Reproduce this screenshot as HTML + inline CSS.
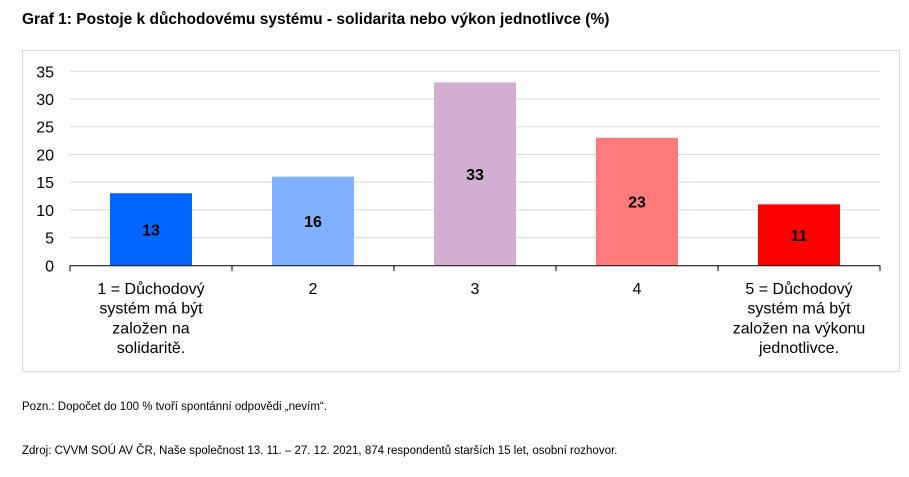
<!DOCTYPE html>
<html><head><meta charset="utf-8"><style>
body{margin:0;background:#fff;font-family:"Liberation Sans",Arial,sans-serif;}
</style></head><body>
<svg width="909" height="472" xmlns="http://www.w3.org/2000/svg" font-family="Liberation Sans, Arial, sans-serif">
<text x="22" y="24" font-size="15.5" font-weight="bold" fill="#000">Graf 1: Postoje k důchodovému systému - solidarita nebo výkon jednotlivce (%)</text>
<rect x="22.5" y="50.5" width="877" height="321" fill="none" stroke="#d9d9d9"/>
<g id="grid"></g><g id="bars"></g><g id="axis"></g>
<text x="22" y="410" font-size="11.5" fill="#000">Pozn.: Dopočet do 100 % tvoří spontánní odpovědi „nevím“.</text>
<text x="22" y="454" font-size="11.5" fill="#000">Zdroj: CVVM SOÚ AV ČR, Naše společnost 13. 11. – 27. 12. 2021,  874 respondentů starších 15 let, osobní rozhovor.</text>
</svg>
<script>
const categories=[["1 = Důchodový","systém má být","založen na","solidaritě."],["2"],["3"],["4"],["5 = Důchodový","systém má být","založen na výkonu","jednotlivce."]];
const values=[13,16,33,23,11];
const colors=["#0066ff","#80b0ff","#d2aed0","#ff7a7a","#ff0000"];
const ticks=[0,5,10,15,20,25,30,35];
const NS="http://www.w3.org/2000/svg";
const x0=70,x1=880,y0=265.3,yTop=71.3,maxV=35;
const band=(x1-x0)/categories.length;
const y=v=>y0-(v/maxV)*(y0-yTop);
const xc=i=>x0+band*(i+0.5);
function mk(t,a,p){const e=document.createElementNS(NS,t);for(const k in a)e.setAttribute(k,a[k]);p.appendChild(e);return e;}
const g=document.getElementById('grid'),b=document.getElementById('bars'),ax=document.getElementById('axis');
ticks.forEach(t=>{
 if(t>0){const l=mk('line',{x1:x0,x2:x1,y1:y(t),y2:y(t),stroke:'#d9d9d9','stroke-width':1},g);
 
 }
 const tx=mk('text',{x:54,y:y(t)+6,'font-size':16,'text-anchor':'end',fill:'#000'},g);
 tx.textContent=t;
 
 
});
values.forEach((v,i)=>{
 const r=mk('rect',{x:xc(i)-41,y:y(v),width:82,height:y0-y(v),fill:colors[i]},b);
 
 
 const t=mk('text',{x:xc(i),y:(y(v)+y0)/2+6,'font-size':16,'font-weight':'bold','text-anchor':'middle',fill:'#000'},b);
 t.textContent=v;
 
 
});
const al=mk('line',{x1:x0,x2:x1,y1:y0+0.5,y2:y0+0.5,stroke:'#000','stroke-width':1},ax);


for(let i=0;i<=categories.length;i++){
 const tk=mk('line',{x1:x0+band*i,x2:x0+band*i,y1:y0,y2:y0+6,stroke:'#000'},ax);
 
 
}
categories.forEach((lines,i)=>{
 lines.forEach((s,j)=>{
  const t=mk('text',{x:xc(i),y:294+j*19.7,'font-size':16,'text-anchor':'middle',fill:'#000'},ax);
  t.textContent=s;
  
  
 });
});
</script>
</body></html>
